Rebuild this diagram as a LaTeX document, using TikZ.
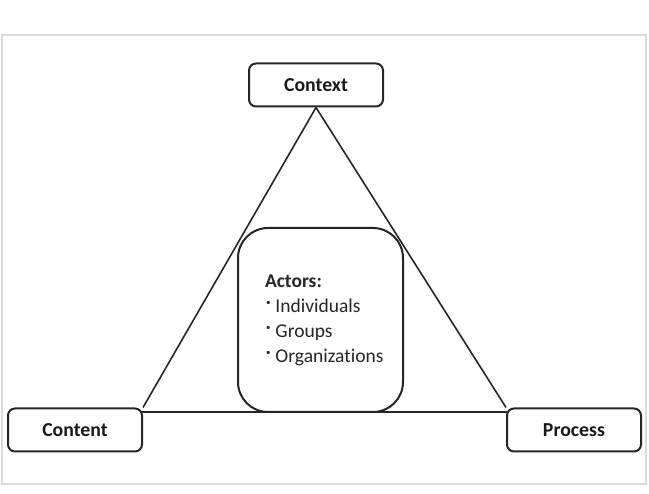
\documentclass[tikz,border=0pt]{standalone}
\usepackage{fontspec}
\setmainfont{Carlito}[Ligatures=NoCommon]
\tikzset{
  lbl/.style={draw=black!85,line width=2pt,rounded corners=7pt,minimum width=134pt,minimum height=43pt,
    font=\fontsize{19.8}{22}\selectfont\bfseries,text=black!90},
  actbox/.style={draw=black!85,line width=2pt,rounded corners=30pt,inner xsep=27pt,text width=111pt,
    minimum height=184pt,align=left,font=\fontsize{19.5}{25}\selectfont,text=black!85},
  edge/.style={draw=black!85,line width=1.6pt}
}
\newcommand{\actitem}[1]{\mbox{\kern1pt\raisebox{0.36em}{\fontsize{9}{9}\selectfont\textbullet}\kern5pt #1}}
\begin{document}
\begin{tikzpicture}[x=1pt,y=-1pt]
\useasboundingbox (0,0) rectangle (649,494);
\draw[black!14,line width=2pt] (2,35) rectangle (646,484);
\node[lbl] (ctx) at (316,85) {Context};
\node[lbl] (cnt) at (75,430) {Content};
\node[lbl] (prc) at (574,430) {Process};
\coordinate (bl) at (142,412);
\coordinate (br) at (507,412);
\draw[edge] (ctx.south) -- (cnt.north east);
\draw[edge] (ctx.south) -- (prc.north west);
\draw[edge] (bl) -- (br);
\node[actbox,fill=white] (act) at (320.5,320) {\textbf{Actors:}\\\actitem{Individuals}\\\actitem{Groups}\\\actitem{Organizations}};
\end{tikzpicture}
\end{document}
